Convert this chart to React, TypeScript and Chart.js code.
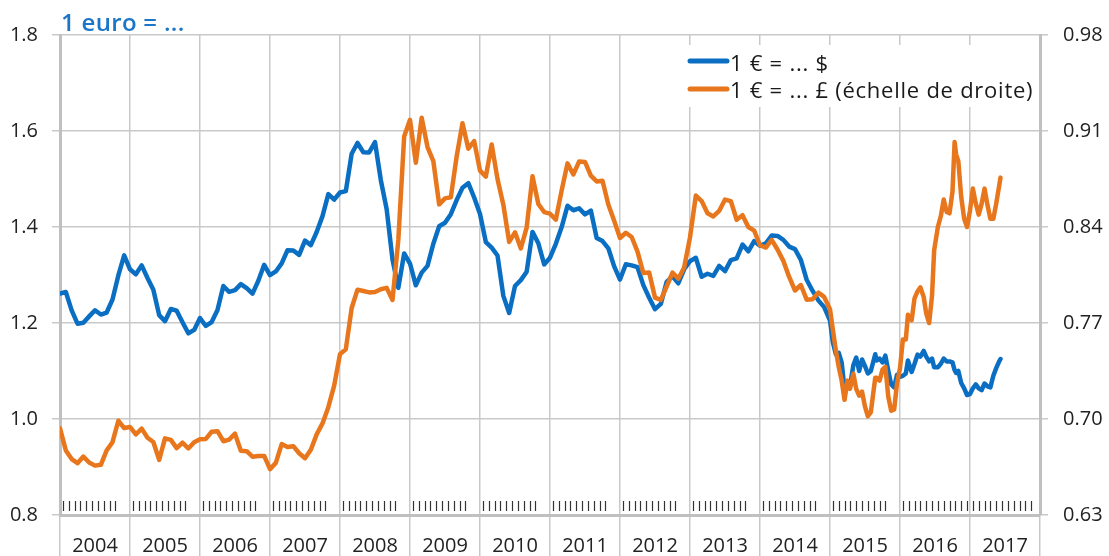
import React, { useEffect, useRef } from 'react';
import { Chart, registerables } from 'chart.js';

Chart.register(...registerables);

const FONT = '"Open Sans", Lato, sans-serif';

const yearLabels = ['2004', '2005', '2006', '2007', '2008', '2009', '2010', '2011', '2012', '2013', '2014', '2015', '2016', '2017'];
const leftTicks = [0.8, 1.0, 1.2, 1.4, 1.6, 1.8];
const rightTicks = [0.63, 0.7, 0.77, 0.84, 0.91, 0.98];

// Monthly averages, Jan 2004 - Dec 2014
const usdMonthly = [
  1.2613, 1.2646, 1.2262, 1.1985, 1.2007, 1.2138, 1.2266, 1.2176, 1.2218, 1.2490, 1.2991, 1.3408,
  1.3119, 1.3014, 1.3201, 1.2938, 1.2694, 1.2165, 1.2037, 1.2292, 1.2256, 1.2015, 1.1786, 1.1856,
  1.2103, 1.1938, 1.2020, 1.2271, 1.2770, 1.2650, 1.2684, 1.2811, 1.2727, 1.2611, 1.2881, 1.3213,
  1.2999, 1.3074, 1.3242, 1.3516, 1.3511, 1.3419, 1.3716, 1.3622, 1.3896, 1.4227, 1.4684, 1.4570,
  1.4718, 1.4748, 1.5527, 1.5751, 1.5557, 1.5553, 1.5770, 1.4975, 1.4370, 1.3322, 1.2732, 1.3449,
  1.3239, 1.2785, 1.3050, 1.3190, 1.3650, 1.4016, 1.4088, 1.4268, 1.4562, 1.4816, 1.4914, 1.4614,
  1.4272, 1.3686, 1.3569, 1.3406, 1.2565, 1.2209, 1.2770, 1.2894, 1.3067, 1.3898, 1.3661, 1.3220,
  1.3360, 1.3649, 1.3999, 1.4442, 1.4349, 1.4388, 1.4264, 1.4343, 1.3770, 1.3706, 1.3556, 1.3179,
  1.2905, 1.3224, 1.3201, 1.3162, 1.2789, 1.2526, 1.2288, 1.2400, 1.2856, 1.2974, 1.2828, 1.3119,
  1.3288, 1.3359, 1.2964, 1.3026, 1.2982, 1.3189, 1.3080, 1.3310, 1.3348, 1.3635, 1.3493, 1.3704,
  1.3610, 1.3659, 1.3823, 1.3813, 1.3732, 1.3592, 1.3539, 1.3316, 1.2901, 1.2673, 1.2472, 1.2331,
];

const gbpMonthly = [
  0.6932, 0.6771, 0.6708, 0.6678, 0.6726, 0.6683, 0.6660, 0.6666, 0.6771, 0.6831, 0.6987, 0.6934,
  0.6942, 0.6888, 0.6930, 0.6863, 0.6832, 0.6702, 0.6859, 0.6848, 0.6788, 0.6827, 0.6785, 0.6831,
  0.6853, 0.6855, 0.6907, 0.6911, 0.6838, 0.6850, 0.6893, 0.6769, 0.6765, 0.6725, 0.6730, 0.6731,
  0.6634, 0.6680, 0.6817, 0.6796, 0.6802, 0.6750, 0.6714, 0.6776, 0.6888, 0.6968, 0.7086, 0.7243,
  0.7473, 0.7509, 0.7809, 0.7943, 0.7933, 0.7923, 0.7926, 0.7946, 0.7956, 0.7868, 0.8306, 0.9060,
  0.9182, 0.8869, 0.9197, 0.8983, 0.8880, 0.8565, 0.8609, 0.8617, 0.8915, 0.9157, 0.8971, 0.9026,
  0.8811, 0.8767, 0.9002, 0.8750, 0.8563, 0.8291, 0.8361, 0.8244, 0.8396, 0.8770, 0.8568, 0.8509,
  0.8497, 0.8453, 0.8667, 0.8864, 0.8783, 0.8878, 0.8874, 0.8774, 0.8732, 0.8737, 0.8564, 0.8445,
  0.8320, 0.8358, 0.8327, 0.8221, 0.8064, 0.8068, 0.7885, 0.7868, 0.7966, 0.8068, 0.8023, 0.8105,
  0.8324, 0.8629, 0.8589, 0.8500, 0.8477, 0.8517, 0.8600, 0.8589, 0.8453, 0.8486, 0.8400, 0.8374,
  0.8267, 0.8250, 0.8306, 0.8236, 0.8153, 0.8036, 0.7937, 0.7977, 0.7870, 0.7874, 0.7921, 0.7890,
];

// Higher-frequency readings, 2015 - June 2017
const recentDates = [
  '2015-01-01', '2015-01-16', '2015-02-01', '2015-02-16', '2015-03-01', '2015-03-16', '2015-04-01', '2015-04-14',
  '2015-05-01', '2015-05-16', '2015-06-01', '2015-06-16', '2015-07-01', '2015-07-16', '2015-08-01', '2015-08-24',
  '2015-09-01', '2015-09-16', '2015-10-01', '2015-10-16', '2015-11-01', '2015-11-16', '2015-12-01', '2015-12-16',
  '2016-01-01', '2016-01-16', '2016-02-01', '2016-02-12', '2016-03-01', '2016-03-16', '2016-04-01', '2016-04-16',
  '2016-05-03', '2016-05-16', '2016-06-01', '2016-06-16', '2016-06-27', '2016-07-16', '2016-08-01', '2016-08-16',
  '2016-09-01', '2016-09-16', '2016-10-01', '2016-10-12', '2016-10-20', '2016-11-01', '2016-11-16', '2016-12-01',
  '2016-12-16', '2017-01-01', '2017-01-16', '2017-02-01', '2017-02-16', '2017-03-01', '2017-03-16', '2017-04-01',
  '2017-04-16', '2017-05-01', '2017-05-16', '2017-06-01', '2017-06-08',
];

const usdRecent = [
  1.205, 1.160, 1.135, 1.138, 1.118, 1.062, 1.078, 1.068,
  1.112, 1.128, 1.100, 1.124, 1.110, 1.095, 1.100, 1.135,
  1.122, 1.126, 1.118, 1.132, 1.100, 1.072, 1.066, 1.092,
  1.088, 1.090, 1.095, 1.122, 1.098, 1.115, 1.134, 1.130,
  1.142, 1.130, 1.120, 1.126, 1.108, 1.108, 1.115, 1.126,
  1.120, 1.120, 1.118, 1.102, 1.096, 1.100, 1.075, 1.064,
  1.050, 1.052, 1.064, 1.072, 1.064, 1.060, 1.074, 1.068,
  1.066, 1.090, 1.106, 1.120, 1.125,
];

const gbpRecent = [
  0.780, 0.765, 0.750, 0.738, 0.728, 0.714, 0.728, 0.722,
  0.733, 0.722, 0.717, 0.720, 0.709, 0.702, 0.705, 0.730,
  0.730, 0.728, 0.736, 0.738, 0.716, 0.706, 0.707, 0.726,
  0.737, 0.758, 0.758, 0.776, 0.772, 0.788, 0.793, 0.796,
  0.789, 0.777, 0.770, 0.790, 0.823, 0.840, 0.848, 0.860,
  0.851, 0.850, 0.866, 0.902, 0.893, 0.888, 0.862, 0.846,
  0.840, 0.852, 0.868, 0.857, 0.849, 0.857, 0.868, 0.856,
  0.846, 0.846, 0.857, 0.870, 0.876,
];

const FIRST_YEAR = 2004;
const LAST_MONTH = 168;

function monthIndex(d: string): number {
  const [y, m, day] = d.split('-').map(Number);
  return (y - FIRST_YEAR) * 12 + (m - 1) + (day - 1) / 30.5;
}

function buildSeries(monthly: number[], recent: number[]) {
  const pts = monthly.map((v, i) => ({ x: i, y: v }));
  recent.forEach((v, i) => pts.push({ x: monthIndex(recentDates[i]), y: v }));
  return pts;
}

const BLUE = '#0A6FC2';
const ORANGE = '#E8761C';

const decorPlugin = {
  id: 'decor',
  beforeDatasetsDraw(chart: any) {
    const { ctx, chartArea, scales } = chart;
    const xs = scales.x;
    ctx.save();
    ctx.strokeStyle = '#333';
    ctx.lineWidth = 1.2;
    for (let k = 0; k < 167; k++) {
      if (k % 12 >= 10 && k < 144) continue;
      const px = Math.round(xs.getPixelForValue(k + 0.5)) + 0.5;
      ctx.beginPath();
      ctx.moveTo(px, chartArea.bottom - 14);
      ctx.lineTo(px, chartArea.bottom - 4);
      ctx.stroke();
    }
    ctx.restore();
  },
  afterDraw(chart: any) {
    const { ctx, chartArea } = chart;
    ctx.save();
    // title
    ctx.fillStyle = '#1B75C8';
    ctx.font = `600 24px ${FONT}`;
    ctx.textBaseline = 'alphabetic';
    ctx.textAlign = 'left';
    (ctx as any).letterSpacing = '0.3px';
    ctx.fillText('1 euro = ...', chartArea.left + 1, 31);
    // legend
    const lx = 680;
    const ly = 45;
    ctx.fillStyle = '#ffffff';
    ctx.fillRect(lx, ly, chartArea.right - lx - 2, 62);
    const items = [
      { color: BLUE, text: '1 € = ... $', y: 61, base: 70.5 },
      { color: ORANGE, text: '1 € = ... £ (échelle de droite)', y: 89, base: 97.5 },
    ];
    ctx.font = `22px ${FONT}`;
    (ctx as any).letterSpacing = '0.75px';
    ctx.textBaseline = 'alphabetic';
    items.forEach((it) => {
      ctx.strokeStyle = it.color;
      ctx.lineWidth = 5;
      ctx.lineCap = 'round';
      ctx.beginPath();
      ctx.moveTo(690, it.y);
      ctx.lineTo(727, it.y);
      ctx.stroke();
      ctx.fillStyle = '#1a1a1a';
      ctx.fillText(it.text, 730, it.base);
    });
    ctx.restore();
  },
};

export default function App() {
  const canvasRef = useRef<HTMLCanvasElement | null>(null);

  useEffect(() => {
    document.body.style.margin = '0';
    const canvas = canvasRef.current;
    if (!canvas) return;
    const tickFont = { family: FONT, size: 20 };
    const chart = new Chart(canvas, {
      type: 'line',
      data: {
        datasets: [
          {
            label: '1 € = ... £ (échelle de droite)',
            data: buildSeries(gbpMonthly, gbpRecent),
            borderColor: ORANGE,
            borderWidth: 4.5,
            pointRadius: 0,
            tension: 0,
            borderJoinStyle: 'round',
            borderCapStyle: 'round',
            yAxisID: 'y2',
            order: 0,
          },
          {
            label: '1 € = ... $',
            data: buildSeries(usdMonthly, usdRecent),
            borderColor: BLUE,
            borderWidth: 4.5,
            pointRadius: 0,
            tension: 0,
            borderJoinStyle: 'round',
            borderCapStyle: 'round',
            yAxisID: 'y',
            order: 1,
          },
        ],
      },
      options: {
        responsive: false,
        animation: false,
        devicePixelRatio: 1,
        layout: { padding: { top: 35, left: 0, right: 0, bottom: 0 } },
        plugins: { legend: { display: false }, tooltip: { enabled: false }, title: { display: false } },
        scales: {
          x: {
            type: 'linear',
            min: 0,
            max: LAST_MONTH,
            afterBuildTicks: (s: any) => {
              const t = [];
              for (let v = 0; v <= LAST_MONTH; v += 6) t.push({ value: v });
              s.ticks = t;
            },
            afterFit: (s: any) => {
              s.height = 41;
            },
            grid: {
              color: (c: any) => (c.tick && c.tick.value % 12 === 0 ? '#c9c9c9' : 'rgba(0,0,0,0)'),
              lineWidth: 1.5,
              drawTicks: true,
              tickLength: 41,
            },
            border: { display: true, color: '#c0c0c0', width: 3 },
            ticks: {
              autoSkip: false,
              maxRotation: 0,
              padding: -22,
              color: '#222',
              font: tickFont,
              callback: (v: any) => (v % 12 === 6 ? yearLabels[(v - 6) / 12] : ''),
            },
          },
          y: {
            position: 'left',
            min: 0.8,
            max: 1.8,
            afterBuildTicks: (s: any) => {
              s.ticks = leftTicks.map((v) => ({ value: v }));
            },
            afterFit: (s: any) => {
              s.width = 60;
            },
            grid: { color: '#c9c9c9', lineWidth: 1.5, tickLength: 8 },
            border: { display: true, color: '#c0c0c0', width: 3 },
            ticks: { padding: 14, color: '#222', font: tickFont, callback: (v: any) => Number(v).toFixed(1) },
          },
          y2: {
            position: 'right',
            min: 0.63,
            max: 0.98,
            afterBuildTicks: (s: any) => {
              s.ticks = rightTicks.map((v) => ({ value: v }));
            },
            afterFit: (s: any) => {
              s.width = 69;
            },
            grid: { drawOnChartArea: false, color: '#c9c9c9', lineWidth: 1.5, tickLength: 8 },
            border: { display: true, color: '#c0c0c0', width: 3 },
            ticks: { padding: 15, color: '#222', font: tickFont, callback: (v: any) => Number(v).toFixed(2) },
          },
        },
      },
      plugins: [decorPlugin],
    } as any);
    return () => chart.destroy();
  }, []);

  return (
    <div style={{ width: 1109, height: 556, position: 'relative', background: '#fff' }}>
      <canvas ref={canvasRef} width={1109} height={556} />
    </div>
  );
}
